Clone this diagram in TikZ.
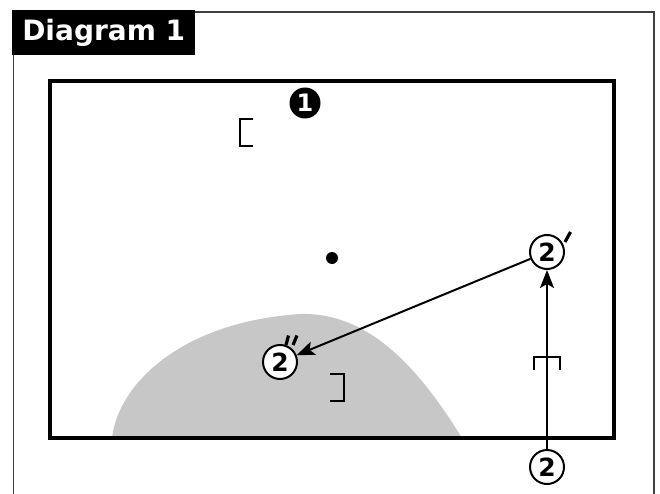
\documentclass[tikz,border=0pt]{standalone}
\usepackage{fontspec}
\setmainfont{DejaVu Sans}
\usetikzlibrary{arrows.meta}
\begin{document}
\begin{tikzpicture}[x=1pt,y=-1pt,
  numcircle/.style={circle,draw=black,line width=2pt,fill=white,minimum size=34pt,inner sep=0pt,font=\fontsize{25}{25}\selectfont\bfseries},
  bracket/.style={line width=2pt},
  conn/.style={line width=2pt,-{Stealth[length=18pt,width=14pt,inset=4pt]}},
  prime/.style={line width=3.2pt,line cap=butt}]
\useasboundingbox (0,0) rectangle (660,494);
\fill[white] (0,0) rectangle (660,494);
% outer frame
\draw[line width=1.8pt,color=black!75] (13.5,494) -- (13.5,12) -- (654,12) -- (654,494);
% label
\node[fill=black,minimum width=183pt,minimum height=45pt,inner sep=0pt,anchor=north west,text=white,font=\fontsize{28}{28}\selectfont\bfseries] (lab) at (12,10) {Diagram 1};
% shaded blob
\fill[black!22] (112,438) .. controls (118,385) and (180,322) .. (300,314)
  .. controls (370,312) and (420,370) .. (462,438) -- cycle;
% inner frame
\draw[line width=4.2pt] (50,81) rectangle (614,438);
% filled circle 1
\node[circle,fill=black,minimum size=31pt,inner sep=0pt,text=white,font=\fontsize{24}{24}\selectfont\bfseries] (c1) at (305,103) {1};
% brackets
\draw[bracket] (253,119) -- (239.5,119) -- (239.5,146) -- (253,146);
\draw[bracket] (330,374) -- (344,374) -- (344,401) -- (330,401);
\draw[bracket] (534,370) -- (534,357) -- (560,357) -- (560,370);
% dot
\node[circle,fill=black,minimum size=12pt,inner sep=0pt] (dot) at (332,258) {};
% numbered circles
\node[numcircle] (c2p) at (547,252) {2};
\node[numcircle] (c2pp) at (280,362) {2};
\node[numcircle] (c2b) at (547,467) {2};
% primes
\draw[prime] (565,242) -- (570.5,232);
\draw[prime] (286,345) -- (288.5,335.5);
\draw[prime] (293,345) -- (297,335.5);
% connectors
\draw[conn] (c2b) -- (c2p);
\draw[conn] (c2p) -- (c2pp);
\end{tikzpicture}
\end{document}
